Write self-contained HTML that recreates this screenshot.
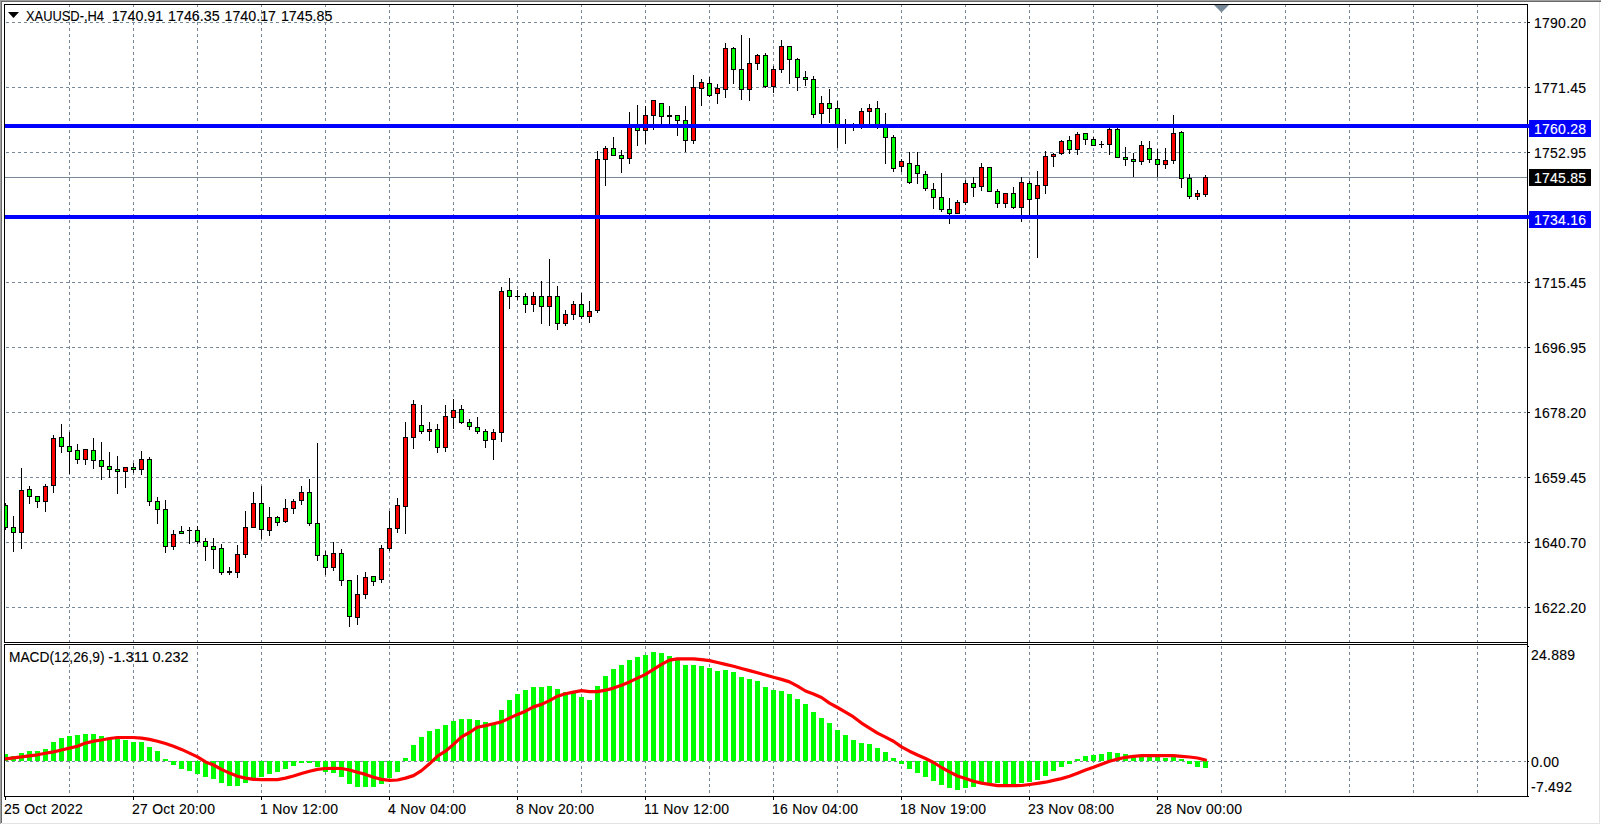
<!DOCTYPE html>
<html><head><meta charset="utf-8"><title>XAUUSD-,H4</title>
<style>html,body{margin:0;padding:0;background:#fff;overflow:hidden}svg{display:block}text{font-family:"Liberation Sans",Arial,sans-serif;font-size:14px;fill:#000;white-space:pre;stroke:#000;stroke-width:.12px}.ax{letter-spacing:.25px}.w{fill:#fff;stroke:#fff}</style>
</head><body>
<svg width="1601" height="825" viewBox="0 0 1601 825">
<rect width="1601" height="825" fill="#fff"/>
<g shape-rendering="crispEdges">
<rect x="0" y="0" width="1601" height="1" fill="#a0a0a0"/>
<rect x="1" y="1" width="1600" height="1" fill="#696969"/>
<rect x="0" y="0" width="1" height="824" fill="#a0a0a0"/>
<rect x="1" y="1" width="1" height="822" fill="#696969"/>
<rect x="1599" y="2" width="1" height="822" fill="#e3e3e3"/>
<rect x="2" y="823" width="1598" height="1" fill="#e3e3e3"/>
</g>
<g stroke="#778899" stroke-width="1" stroke-dasharray="3 3" shape-rendering="crispEdges" fill="none">
<line x1="69.5" y1="4" x2="69.5" y2="642"/>
<line x1="69.5" y1="646" x2="69.5" y2="796"/>
<line x1="133.5" y1="4" x2="133.5" y2="642"/>
<line x1="133.5" y1="646" x2="133.5" y2="796"/>
<line x1="197.5" y1="4" x2="197.5" y2="642"/>
<line x1="197.5" y1="646" x2="197.5" y2="796"/>
<line x1="261.5" y1="4" x2="261.5" y2="642"/>
<line x1="261.5" y1="646" x2="261.5" y2="796"/>
<line x1="325.5" y1="4" x2="325.5" y2="642"/>
<line x1="325.5" y1="646" x2="325.5" y2="796"/>
<line x1="389.5" y1="4" x2="389.5" y2="642"/>
<line x1="389.5" y1="646" x2="389.5" y2="796"/>
<line x1="453.5" y1="4" x2="453.5" y2="642"/>
<line x1="453.5" y1="646" x2="453.5" y2="796"/>
<line x1="517.5" y1="4" x2="517.5" y2="642"/>
<line x1="517.5" y1="646" x2="517.5" y2="796"/>
<line x1="581.5" y1="4" x2="581.5" y2="642"/>
<line x1="581.5" y1="646" x2="581.5" y2="796"/>
<line x1="645.5" y1="4" x2="645.5" y2="642"/>
<line x1="645.5" y1="646" x2="645.5" y2="796"/>
<line x1="709.5" y1="4" x2="709.5" y2="642"/>
<line x1="709.5" y1="646" x2="709.5" y2="796"/>
<line x1="773.5" y1="4" x2="773.5" y2="642"/>
<line x1="773.5" y1="646" x2="773.5" y2="796"/>
<line x1="837.5" y1="4" x2="837.5" y2="642"/>
<line x1="837.5" y1="646" x2="837.5" y2="796"/>
<line x1="901.5" y1="4" x2="901.5" y2="642"/>
<line x1="901.5" y1="646" x2="901.5" y2="796"/>
<line x1="965.5" y1="4" x2="965.5" y2="642"/>
<line x1="965.5" y1="646" x2="965.5" y2="796"/>
<line x1="1029.5" y1="4" x2="1029.5" y2="642"/>
<line x1="1029.5" y1="646" x2="1029.5" y2="796"/>
<line x1="1093.5" y1="4" x2="1093.5" y2="642"/>
<line x1="1093.5" y1="646" x2="1093.5" y2="796"/>
<line x1="1157.5" y1="4" x2="1157.5" y2="642"/>
<line x1="1157.5" y1="646" x2="1157.5" y2="796"/>
<line x1="1221.5" y1="4" x2="1221.5" y2="642"/>
<line x1="1221.5" y1="646" x2="1221.5" y2="796"/>
<line x1="1285.5" y1="4" x2="1285.5" y2="642"/>
<line x1="1285.5" y1="646" x2="1285.5" y2="796"/>
<line x1="1349.5" y1="4" x2="1349.5" y2="642"/>
<line x1="1349.5" y1="646" x2="1349.5" y2="796"/>
<line x1="1413.5" y1="4" x2="1413.5" y2="642"/>
<line x1="1413.5" y1="646" x2="1413.5" y2="796"/>
<line x1="1477.5" y1="4" x2="1477.5" y2="642"/>
<line x1="1477.5" y1="646" x2="1477.5" y2="796"/>
<line x1="6" y1="22.5" x2="1526" y2="22.5"/>
<line x1="6" y1="87.5" x2="1526" y2="87.5"/>
<line x1="6" y1="152.5" x2="1526" y2="152.5"/>
<line x1="6" y1="217.5" x2="1526" y2="217.5"/>
<line x1="6" y1="282.5" x2="1526" y2="282.5"/>
<line x1="6" y1="347.5" x2="1526" y2="347.5"/>
<line x1="6" y1="412.5" x2="1526" y2="412.5"/>
<line x1="6" y1="477.5" x2="1526" y2="477.5"/>
<line x1="6" y1="542.5" x2="1526" y2="542.5"/>
<line x1="6" y1="607.5" x2="1526" y2="607.5"/>
<line x1="6" y1="761.5" x2="1526" y2="761.5"/>
</g>
<rect x="5" y="177" width="1522" height="1" fill="#778899" shape-rendering="crispEdges"/>
<g shape-rendering="crispEdges" clip-path="url(#cm)">
<defs><clipPath id="cm"><rect x="5" y="5" width="1522" height="637"/></clipPath><clipPath id="cd"><rect x="5" y="645" width="1522" height="151"/></clipPath></defs>
<rect x="5" y="503" width="1" height="27" fill="#000"/>
<rect x="3" y="505" width="5" height="23" fill="#000"/>
<rect x="4" y="506" width="3" height="21" fill="#00ff00"/>
<rect x="13" y="516" width="1" height="36" fill="#000"/>
<rect x="11" y="527" width="5" height="6" fill="#000"/>
<rect x="12" y="528" width="3" height="4" fill="#00ff00"/>
<rect x="21" y="468" width="1" height="81" fill="#000"/>
<rect x="19" y="490" width="5" height="43" fill="#000"/>
<rect x="20" y="491" width="3" height="41" fill="#ff0000"/>
<rect x="29" y="486" width="1" height="18" fill="#000"/>
<rect x="27" y="489" width="5" height="8" fill="#000"/>
<rect x="28" y="490" width="3" height="6" fill="#00ff00"/>
<rect x="37" y="496" width="1" height="12" fill="#000"/>
<rect x="35" y="496" width="5" height="6" fill="#000"/>
<rect x="36" y="497" width="3" height="4" fill="#00ff00"/>
<rect x="45" y="484" width="1" height="28" fill="#000"/>
<rect x="43" y="486" width="5" height="16" fill="#000"/>
<rect x="44" y="487" width="3" height="14" fill="#ff0000"/>
<rect x="53" y="435" width="1" height="58" fill="#000"/>
<rect x="51" y="438" width="5" height="48" fill="#000"/>
<rect x="52" y="439" width="3" height="46" fill="#ff0000"/>
<rect x="61" y="424" width="1" height="29" fill="#000"/>
<rect x="59" y="437" width="5" height="10" fill="#000"/>
<rect x="60" y="438" width="3" height="8" fill="#00ff00"/>
<rect x="69" y="432" width="1" height="42" fill="#000"/>
<rect x="67" y="446" width="5" height="6" fill="#000"/>
<rect x="68" y="447" width="3" height="4" fill="#00ff00"/>
<rect x="77" y="444" width="1" height="20" fill="#000"/>
<rect x="75" y="450" width="5" height="10" fill="#000"/>
<rect x="76" y="451" width="3" height="8" fill="#00ff00"/>
<rect x="85" y="449" width="1" height="16" fill="#000"/>
<rect x="83" y="449" width="5" height="11" fill="#000"/>
<rect x="84" y="450" width="3" height="9" fill="#ff0000"/>
<rect x="93" y="438" width="1" height="31" fill="#000"/>
<rect x="91" y="450" width="5" height="11" fill="#000"/>
<rect x="92" y="451" width="3" height="9" fill="#00ff00"/>
<rect x="101" y="442" width="1" height="38" fill="#000"/>
<rect x="99" y="460" width="5" height="7" fill="#000"/>
<rect x="100" y="461" width="3" height="5" fill="#00ff00"/>
<rect x="109" y="452" width="1" height="26" fill="#000"/>
<rect x="107" y="466" width="5" height="4" fill="#000"/>
<rect x="108" y="467" width="3" height="2" fill="#00ff00"/>
<rect x="117" y="456" width="1" height="38" fill="#000"/>
<rect x="115" y="469" width="5" height="3" fill="#000"/>
<rect x="116" y="470" width="3" height="1" fill="#00ff00"/>
<rect x="125" y="467" width="1" height="21" fill="#000"/>
<rect x="123" y="467" width="5" height="5" fill="#000"/>
<rect x="124" y="468" width="3" height="3" fill="#ff0000"/>
<rect x="133" y="463" width="1" height="10" fill="#000"/>
<rect x="131" y="467" width="5" height="3" fill="#000"/>
<rect x="132" y="468" width="3" height="1" fill="#00ff00"/>
<rect x="141" y="451" width="1" height="24" fill="#000"/>
<rect x="139" y="459" width="5" height="11" fill="#000"/>
<rect x="140" y="460" width="3" height="9" fill="#ff0000"/>
<rect x="149" y="457" width="1" height="49" fill="#000"/>
<rect x="147" y="459" width="5" height="43" fill="#000"/>
<rect x="148" y="460" width="3" height="41" fill="#00ff00"/>
<rect x="157" y="497" width="1" height="27" fill="#000"/>
<rect x="155" y="501" width="5" height="9" fill="#000"/>
<rect x="156" y="502" width="3" height="7" fill="#00ff00"/>
<rect x="165" y="500" width="1" height="53" fill="#000"/>
<rect x="163" y="509" width="5" height="38" fill="#000"/>
<rect x="164" y="510" width="3" height="36" fill="#00ff00"/>
<rect x="173" y="530" width="1" height="20" fill="#000"/>
<rect x="171" y="534" width="5" height="13" fill="#000"/>
<rect x="172" y="535" width="3" height="11" fill="#ff0000"/>
<rect x="181" y="526" width="1" height="8" fill="#000"/>
<rect x="179" y="531" width="5" height="3" fill="#000"/>
<rect x="180" y="532" width="3" height="1" fill="#00ff00"/>
<rect x="189" y="527" width="1" height="17" fill="#000"/>
<rect x="187" y="530" width="5" height="1" fill="#000"/>
<rect x="197" y="526" width="1" height="18" fill="#000"/>
<rect x="195" y="530" width="5" height="12" fill="#000"/>
<rect x="196" y="531" width="3" height="10" fill="#00ff00"/>
<rect x="205" y="538" width="1" height="23" fill="#000"/>
<rect x="203" y="541" width="5" height="6" fill="#000"/>
<rect x="204" y="542" width="3" height="4" fill="#00ff00"/>
<rect x="213" y="538" width="1" height="31" fill="#000"/>
<rect x="211" y="546" width="5" height="4" fill="#000"/>
<rect x="212" y="547" width="3" height="2" fill="#00ff00"/>
<rect x="221" y="544" width="1" height="31" fill="#000"/>
<rect x="219" y="548" width="5" height="25" fill="#000"/>
<rect x="220" y="549" width="3" height="23" fill="#00ff00"/>
<rect x="229" y="567" width="1" height="8" fill="#000"/>
<rect x="227" y="571" width="5" height="2" fill="#000"/>
<rect x="237" y="545" width="1" height="33" fill="#000"/>
<rect x="235" y="554" width="5" height="19" fill="#000"/>
<rect x="236" y="555" width="3" height="17" fill="#ff0000"/>
<rect x="245" y="511" width="1" height="47" fill="#000"/>
<rect x="243" y="527" width="5" height="28" fill="#000"/>
<rect x="244" y="528" width="3" height="26" fill="#ff0000"/>
<rect x="253" y="492" width="1" height="36" fill="#000"/>
<rect x="251" y="503" width="5" height="25" fill="#000"/>
<rect x="252" y="504" width="3" height="23" fill="#ff0000"/>
<rect x="261" y="486" width="1" height="53" fill="#000"/>
<rect x="259" y="503" width="5" height="27" fill="#000"/>
<rect x="260" y="504" width="3" height="25" fill="#00ff00"/>
<rect x="269" y="507" width="1" height="29" fill="#000"/>
<rect x="267" y="517" width="5" height="14" fill="#000"/>
<rect x="268" y="518" width="3" height="12" fill="#ff0000"/>
<rect x="277" y="516" width="1" height="10" fill="#000"/>
<rect x="275" y="517" width="5" height="6" fill="#000"/>
<rect x="276" y="518" width="3" height="4" fill="#00ff00"/>
<rect x="285" y="499" width="1" height="24" fill="#000"/>
<rect x="283" y="508" width="5" height="14" fill="#000"/>
<rect x="284" y="509" width="3" height="12" fill="#ff0000"/>
<rect x="293" y="499" width="1" height="15" fill="#000"/>
<rect x="291" y="501" width="5" height="8" fill="#000"/>
<rect x="292" y="502" width="3" height="6" fill="#ff0000"/>
<rect x="301" y="486" width="1" height="19" fill="#000"/>
<rect x="299" y="492" width="5" height="9" fill="#000"/>
<rect x="300" y="493" width="3" height="7" fill="#ff0000"/>
<rect x="309" y="479" width="1" height="47" fill="#000"/>
<rect x="307" y="492" width="5" height="32" fill="#000"/>
<rect x="308" y="493" width="3" height="30" fill="#00ff00"/>
<rect x="317" y="443" width="1" height="118" fill="#000"/>
<rect x="315" y="523" width="5" height="33" fill="#000"/>
<rect x="316" y="524" width="3" height="31" fill="#00ff00"/>
<rect x="325" y="551" width="1" height="24" fill="#000"/>
<rect x="323" y="555" width="5" height="13" fill="#000"/>
<rect x="324" y="556" width="3" height="11" fill="#00ff00"/>
<rect x="333" y="542" width="1" height="29" fill="#000"/>
<rect x="331" y="553" width="5" height="15" fill="#000"/>
<rect x="332" y="554" width="3" height="13" fill="#ff0000"/>
<rect x="341" y="549" width="1" height="37" fill="#000"/>
<rect x="339" y="553" width="5" height="28" fill="#000"/>
<rect x="340" y="554" width="3" height="26" fill="#00ff00"/>
<rect x="349" y="580" width="1" height="47" fill="#000"/>
<rect x="347" y="580" width="5" height="37" fill="#000"/>
<rect x="348" y="581" width="3" height="35" fill="#00ff00"/>
<rect x="357" y="575" width="1" height="50" fill="#000"/>
<rect x="355" y="594" width="5" height="24" fill="#000"/>
<rect x="356" y="595" width="3" height="22" fill="#ff0000"/>
<rect x="365" y="572" width="1" height="27" fill="#000"/>
<rect x="363" y="577" width="5" height="18" fill="#000"/>
<rect x="364" y="578" width="3" height="16" fill="#ff0000"/>
<rect x="373" y="576" width="1" height="10" fill="#000"/>
<rect x="371" y="576" width="5" height="6" fill="#000"/>
<rect x="372" y="577" width="3" height="4" fill="#00ff00"/>
<rect x="381" y="545" width="1" height="38" fill="#000"/>
<rect x="379" y="548" width="5" height="32" fill="#000"/>
<rect x="380" y="549" width="3" height="30" fill="#ff0000"/>
<rect x="389" y="511" width="1" height="40" fill="#000"/>
<rect x="387" y="528" width="5" height="21" fill="#000"/>
<rect x="388" y="529" width="3" height="19" fill="#ff0000"/>
<rect x="397" y="498" width="1" height="35" fill="#000"/>
<rect x="395" y="505" width="5" height="24" fill="#000"/>
<rect x="396" y="506" width="3" height="22" fill="#ff0000"/>
<rect x="405" y="422" width="1" height="112" fill="#000"/>
<rect x="403" y="437" width="5" height="70" fill="#000"/>
<rect x="404" y="438" width="3" height="68" fill="#ff0000"/>
<rect x="413" y="400" width="1" height="49" fill="#000"/>
<rect x="411" y="404" width="5" height="34" fill="#000"/>
<rect x="412" y="405" width="3" height="32" fill="#ff0000"/>
<rect x="421" y="405" width="1" height="29" fill="#000"/>
<rect x="419" y="425" width="5" height="7" fill="#000"/>
<rect x="420" y="426" width="3" height="5" fill="#00ff00"/>
<rect x="429" y="422" width="1" height="19" fill="#000"/>
<rect x="427" y="429" width="5" height="3" fill="#000"/>
<rect x="428" y="430" width="3" height="1" fill="#ff0000"/>
<rect x="437" y="424" width="1" height="29" fill="#000"/>
<rect x="435" y="429" width="5" height="19" fill="#000"/>
<rect x="436" y="430" width="3" height="17" fill="#00ff00"/>
<rect x="445" y="405" width="1" height="47" fill="#000"/>
<rect x="443" y="416" width="5" height="32" fill="#000"/>
<rect x="444" y="417" width="3" height="30" fill="#ff0000"/>
<rect x="453" y="399" width="1" height="30" fill="#000"/>
<rect x="451" y="410" width="5" height="8" fill="#000"/>
<rect x="452" y="411" width="3" height="6" fill="#ff0000"/>
<rect x="461" y="405" width="1" height="19" fill="#000"/>
<rect x="459" y="409" width="5" height="14" fill="#000"/>
<rect x="460" y="410" width="3" height="12" fill="#00ff00"/>
<rect x="469" y="419" width="1" height="11" fill="#000"/>
<rect x="467" y="422" width="5" height="5" fill="#000"/>
<rect x="468" y="423" width="3" height="3" fill="#00ff00"/>
<rect x="477" y="417" width="1" height="17" fill="#000"/>
<rect x="475" y="427" width="5" height="5" fill="#000"/>
<rect x="476" y="428" width="3" height="3" fill="#00ff00"/>
<rect x="485" y="429" width="1" height="19" fill="#000"/>
<rect x="483" y="431" width="5" height="10" fill="#000"/>
<rect x="484" y="432" width="3" height="8" fill="#00ff00"/>
<rect x="493" y="429" width="1" height="31" fill="#000"/>
<rect x="491" y="432" width="5" height="8" fill="#000"/>
<rect x="492" y="433" width="3" height="6" fill="#ff0000"/>
<rect x="501" y="287" width="1" height="155" fill="#000"/>
<rect x="499" y="291" width="5" height="142" fill="#000"/>
<rect x="500" y="292" width="3" height="140" fill="#ff0000"/>
<rect x="509" y="278" width="1" height="31" fill="#000"/>
<rect x="507" y="290" width="5" height="7" fill="#000"/>
<rect x="508" y="291" width="3" height="5" fill="#00ff00"/>
<rect x="517" y="290" width="1" height="10" fill="#000"/>
<rect x="515" y="296" width="5" height="1" fill="#000"/>
<rect x="525" y="293" width="1" height="20" fill="#000"/>
<rect x="523" y="296" width="5" height="9" fill="#000"/>
<rect x="524" y="297" width="3" height="7" fill="#00ff00"/>
<rect x="533" y="292" width="1" height="20" fill="#000"/>
<rect x="531" y="296" width="5" height="9" fill="#000"/>
<rect x="532" y="297" width="3" height="7" fill="#ff0000"/>
<rect x="541" y="281" width="1" height="43" fill="#000"/>
<rect x="539" y="296" width="5" height="11" fill="#000"/>
<rect x="540" y="297" width="3" height="9" fill="#00ff00"/>
<rect x="549" y="259" width="1" height="67" fill="#000"/>
<rect x="547" y="296" width="5" height="11" fill="#000"/>
<rect x="548" y="297" width="3" height="9" fill="#ff0000"/>
<rect x="557" y="286" width="1" height="44" fill="#000"/>
<rect x="555" y="296" width="5" height="28" fill="#000"/>
<rect x="556" y="297" width="3" height="26" fill="#00ff00"/>
<rect x="565" y="310" width="1" height="16" fill="#000"/>
<rect x="563" y="314" width="5" height="10" fill="#000"/>
<rect x="564" y="315" width="3" height="8" fill="#ff0000"/>
<rect x="573" y="301" width="1" height="19" fill="#000"/>
<rect x="571" y="304" width="5" height="11" fill="#000"/>
<rect x="572" y="305" width="3" height="9" fill="#ff0000"/>
<rect x="581" y="293" width="1" height="26" fill="#000"/>
<rect x="579" y="304" width="5" height="13" fill="#000"/>
<rect x="580" y="305" width="3" height="11" fill="#00ff00"/>
<rect x="589" y="301" width="1" height="22" fill="#000"/>
<rect x="587" y="311" width="5" height="6" fill="#000"/>
<rect x="588" y="312" width="3" height="4" fill="#ff0000"/>
<rect x="597" y="151" width="1" height="162" fill="#000"/>
<rect x="595" y="159" width="5" height="152" fill="#000"/>
<rect x="596" y="160" width="3" height="150" fill="#ff0000"/>
<rect x="605" y="146" width="1" height="40" fill="#000"/>
<rect x="603" y="148" width="5" height="12" fill="#000"/>
<rect x="604" y="149" width="3" height="10" fill="#ff0000"/>
<rect x="613" y="137" width="1" height="19" fill="#000"/>
<rect x="611" y="148" width="5" height="8" fill="#000"/>
<rect x="612" y="149" width="3" height="6" fill="#00ff00"/>
<rect x="621" y="150" width="1" height="23" fill="#000"/>
<rect x="619" y="155" width="5" height="4" fill="#000"/>
<rect x="620" y="156" width="3" height="2" fill="#00ff00"/>
<rect x="629" y="112" width="1" height="52" fill="#000"/>
<rect x="627" y="125" width="5" height="34" fill="#000"/>
<rect x="628" y="126" width="3" height="32" fill="#ff0000"/>
<rect x="637" y="105" width="1" height="41" fill="#000"/>
<rect x="635" y="125" width="5" height="6" fill="#000"/>
<rect x="636" y="126" width="3" height="4" fill="#00ff00"/>
<rect x="645" y="106" width="1" height="38" fill="#000"/>
<rect x="643" y="115" width="5" height="16" fill="#000"/>
<rect x="644" y="116" width="3" height="14" fill="#ff0000"/>
<rect x="653" y="100" width="1" height="30" fill="#000"/>
<rect x="651" y="100" width="5" height="16" fill="#000"/>
<rect x="652" y="101" width="3" height="14" fill="#ff0000"/>
<rect x="661" y="103" width="1" height="23" fill="#000"/>
<rect x="659" y="103" width="5" height="14" fill="#000"/>
<rect x="660" y="104" width="3" height="12" fill="#00ff00"/>
<rect x="669" y="106" width="1" height="20" fill="#000"/>
<rect x="667" y="115" width="5" height="2" fill="#000"/>
<rect x="677" y="115" width="1" height="21" fill="#000"/>
<rect x="675" y="115" width="5" height="6" fill="#000"/>
<rect x="676" y="116" width="3" height="4" fill="#00ff00"/>
<rect x="685" y="106" width="1" height="46" fill="#000"/>
<rect x="683" y="120" width="5" height="21" fill="#000"/>
<rect x="684" y="121" width="3" height="19" fill="#00ff00"/>
<rect x="693" y="75" width="1" height="69" fill="#000"/>
<rect x="691" y="87" width="5" height="54" fill="#000"/>
<rect x="692" y="88" width="3" height="52" fill="#ff0000"/>
<rect x="701" y="79" width="1" height="27" fill="#000"/>
<rect x="699" y="82" width="5" height="7" fill="#000"/>
<rect x="700" y="83" width="3" height="5" fill="#ff0000"/>
<rect x="709" y="77" width="1" height="20" fill="#000"/>
<rect x="707" y="83" width="5" height="13" fill="#000"/>
<rect x="708" y="84" width="3" height="11" fill="#00ff00"/>
<rect x="717" y="84" width="1" height="20" fill="#000"/>
<rect x="715" y="88" width="5" height="6" fill="#000"/>
<rect x="716" y="89" width="3" height="4" fill="#ff0000"/>
<rect x="725" y="43" width="1" height="55" fill="#000"/>
<rect x="723" y="48" width="5" height="42" fill="#000"/>
<rect x="724" y="49" width="3" height="40" fill="#ff0000"/>
<rect x="733" y="47" width="1" height="37" fill="#000"/>
<rect x="731" y="48" width="5" height="22" fill="#000"/>
<rect x="732" y="49" width="3" height="20" fill="#00ff00"/>
<rect x="741" y="35" width="1" height="65" fill="#000"/>
<rect x="739" y="69" width="5" height="21" fill="#000"/>
<rect x="740" y="70" width="3" height="19" fill="#00ff00"/>
<rect x="749" y="38" width="1" height="63" fill="#000"/>
<rect x="747" y="63" width="5" height="27" fill="#000"/>
<rect x="748" y="64" width="3" height="25" fill="#ff0000"/>
<rect x="757" y="54" width="1" height="16" fill="#000"/>
<rect x="755" y="55" width="5" height="9" fill="#000"/>
<rect x="756" y="56" width="3" height="7" fill="#ff0000"/>
<rect x="765" y="53" width="1" height="35" fill="#000"/>
<rect x="763" y="55" width="5" height="32" fill="#000"/>
<rect x="764" y="56" width="3" height="30" fill="#00ff00"/>
<rect x="773" y="66" width="1" height="27" fill="#000"/>
<rect x="771" y="69" width="5" height="18" fill="#000"/>
<rect x="772" y="70" width="3" height="16" fill="#ff0000"/>
<rect x="781" y="40" width="1" height="33" fill="#000"/>
<rect x="779" y="46" width="5" height="24" fill="#000"/>
<rect x="780" y="47" width="3" height="22" fill="#ff0000"/>
<rect x="789" y="46" width="1" height="38" fill="#000"/>
<rect x="787" y="46" width="5" height="14" fill="#000"/>
<rect x="788" y="47" width="3" height="12" fill="#00ff00"/>
<rect x="797" y="58" width="1" height="33" fill="#000"/>
<rect x="795" y="59" width="5" height="19" fill="#000"/>
<rect x="796" y="60" width="3" height="17" fill="#00ff00"/>
<rect x="805" y="71" width="1" height="15" fill="#000"/>
<rect x="803" y="77" width="5" height="3" fill="#000"/>
<rect x="804" y="78" width="3" height="1" fill="#00ff00"/>
<rect x="813" y="76" width="1" height="42" fill="#000"/>
<rect x="811" y="79" width="5" height="36" fill="#000"/>
<rect x="812" y="80" width="3" height="34" fill="#00ff00"/>
<rect x="821" y="96" width="1" height="30" fill="#000"/>
<rect x="819" y="103" width="5" height="11" fill="#000"/>
<rect x="820" y="104" width="3" height="9" fill="#ff0000"/>
<rect x="829" y="89" width="1" height="34" fill="#000"/>
<rect x="827" y="103" width="5" height="6" fill="#000"/>
<rect x="828" y="104" width="3" height="4" fill="#00ff00"/>
<rect x="837" y="101" width="1" height="47" fill="#000"/>
<rect x="835" y="108" width="5" height="19" fill="#000"/>
<rect x="836" y="109" width="3" height="17" fill="#00ff00"/>
<rect x="845" y="119" width="1" height="25" fill="#000"/>
<rect x="843" y="125" width="5" height="2" fill="#000"/>
<rect x="853" y="123" width="1" height="8" fill="#000"/>
<rect x="851" y="125" width="5" height="2" fill="#000"/>
<rect x="861" y="108" width="1" height="21" fill="#000"/>
<rect x="859" y="111" width="5" height="16" fill="#000"/>
<rect x="860" y="112" width="3" height="14" fill="#ff0000"/>
<rect x="869" y="104" width="1" height="22" fill="#000"/>
<rect x="867" y="108" width="5" height="4" fill="#000"/>
<rect x="868" y="109" width="3" height="2" fill="#ff0000"/>
<rect x="877" y="101" width="1" height="28" fill="#000"/>
<rect x="875" y="108" width="5" height="19" fill="#000"/>
<rect x="876" y="109" width="3" height="17" fill="#00ff00"/>
<rect x="885" y="113" width="1" height="51" fill="#000"/>
<rect x="883" y="125" width="5" height="13" fill="#000"/>
<rect x="884" y="126" width="3" height="11" fill="#00ff00"/>
<rect x="893" y="135" width="1" height="37" fill="#000"/>
<rect x="891" y="137" width="5" height="32" fill="#000"/>
<rect x="892" y="138" width="3" height="30" fill="#00ff00"/>
<rect x="901" y="159" width="1" height="13" fill="#000"/>
<rect x="899" y="161" width="5" height="6" fill="#000"/>
<rect x="900" y="162" width="3" height="4" fill="#ff0000"/>
<rect x="909" y="152" width="1" height="32" fill="#000"/>
<rect x="907" y="163" width="5" height="20" fill="#000"/>
<rect x="908" y="164" width="3" height="18" fill="#00ff00"/>
<rect x="917" y="152" width="1" height="32" fill="#000"/>
<rect x="915" y="165" width="5" height="9" fill="#000"/>
<rect x="916" y="166" width="3" height="7" fill="#00ff00"/>
<rect x="925" y="171" width="1" height="20" fill="#000"/>
<rect x="923" y="174" width="5" height="15" fill="#000"/>
<rect x="924" y="175" width="3" height="13" fill="#00ff00"/>
<rect x="933" y="183" width="1" height="26" fill="#000"/>
<rect x="931" y="189" width="5" height="9" fill="#000"/>
<rect x="932" y="190" width="3" height="7" fill="#00ff00"/>
<rect x="941" y="173" width="1" height="39" fill="#000"/>
<rect x="939" y="197" width="5" height="13" fill="#000"/>
<rect x="940" y="198" width="3" height="11" fill="#00ff00"/>
<rect x="949" y="198" width="1" height="26" fill="#000"/>
<rect x="947" y="209" width="5" height="5" fill="#000"/>
<rect x="948" y="210" width="3" height="3" fill="#00ff00"/>
<rect x="957" y="200" width="1" height="14" fill="#000"/>
<rect x="955" y="202" width="5" height="12" fill="#000"/>
<rect x="956" y="203" width="3" height="10" fill="#ff0000"/>
<rect x="965" y="180" width="1" height="25" fill="#000"/>
<rect x="963" y="183" width="5" height="20" fill="#000"/>
<rect x="964" y="184" width="3" height="18" fill="#ff0000"/>
<rect x="973" y="177" width="1" height="20" fill="#000"/>
<rect x="971" y="183" width="5" height="5" fill="#000"/>
<rect x="972" y="184" width="3" height="3" fill="#00ff00"/>
<rect x="981" y="163" width="1" height="28" fill="#000"/>
<rect x="979" y="167" width="5" height="20" fill="#000"/>
<rect x="980" y="168" width="3" height="18" fill="#ff0000"/>
<rect x="989" y="167" width="1" height="25" fill="#000"/>
<rect x="987" y="167" width="5" height="25" fill="#000"/>
<rect x="988" y="168" width="3" height="23" fill="#00ff00"/>
<rect x="997" y="189" width="1" height="19" fill="#000"/>
<rect x="995" y="191" width="5" height="13" fill="#000"/>
<rect x="996" y="192" width="3" height="11" fill="#00ff00"/>
<rect x="1005" y="193" width="1" height="15" fill="#000"/>
<rect x="1003" y="193" width="5" height="11" fill="#000"/>
<rect x="1004" y="194" width="3" height="9" fill="#ff0000"/>
<rect x="1013" y="187" width="1" height="22" fill="#000"/>
<rect x="1011" y="193" width="5" height="15" fill="#000"/>
<rect x="1012" y="194" width="3" height="13" fill="#00ff00"/>
<rect x="1021" y="177" width="1" height="45" fill="#000"/>
<rect x="1019" y="182" width="5" height="26" fill="#000"/>
<rect x="1020" y="183" width="3" height="24" fill="#ff0000"/>
<rect x="1029" y="181" width="1" height="37" fill="#000"/>
<rect x="1027" y="183" width="5" height="17" fill="#000"/>
<rect x="1028" y="184" width="3" height="15" fill="#00ff00"/>
<rect x="1037" y="171" width="1" height="87" fill="#000"/>
<rect x="1035" y="185" width="5" height="14" fill="#000"/>
<rect x="1036" y="186" width="3" height="12" fill="#ff0000"/>
<rect x="1045" y="151" width="1" height="43" fill="#000"/>
<rect x="1043" y="156" width="5" height="30" fill="#000"/>
<rect x="1044" y="157" width="3" height="28" fill="#ff0000"/>
<rect x="1053" y="153" width="1" height="14" fill="#000"/>
<rect x="1051" y="154" width="5" height="3" fill="#000"/>
<rect x="1052" y="155" width="3" height="1" fill="#ff0000"/>
<rect x="1061" y="140" width="1" height="15" fill="#000"/>
<rect x="1059" y="141" width="5" height="13" fill="#000"/>
<rect x="1060" y="142" width="3" height="11" fill="#ff0000"/>
<rect x="1069" y="136" width="1" height="18" fill="#000"/>
<rect x="1067" y="140" width="5" height="10" fill="#000"/>
<rect x="1068" y="141" width="3" height="8" fill="#00ff00"/>
<rect x="1077" y="132" width="1" height="23" fill="#000"/>
<rect x="1075" y="134" width="5" height="16" fill="#000"/>
<rect x="1076" y="135" width="3" height="14" fill="#ff0000"/>
<rect x="1085" y="133" width="1" height="12" fill="#000"/>
<rect x="1083" y="133" width="5" height="7" fill="#000"/>
<rect x="1084" y="134" width="3" height="5" fill="#00ff00"/>
<rect x="1093" y="137" width="1" height="9" fill="#000"/>
<rect x="1091" y="139" width="5" height="7" fill="#000"/>
<rect x="1092" y="140" width="3" height="5" fill="#00ff00"/>
<rect x="1101" y="141" width="1" height="7" fill="#000"/>
<rect x="1099" y="144" width="5" height="1" fill="#000"/>
<rect x="1109" y="128" width="1" height="27" fill="#000"/>
<rect x="1107" y="129" width="5" height="16" fill="#000"/>
<rect x="1108" y="130" width="3" height="14" fill="#ff0000"/>
<rect x="1117" y="128" width="1" height="30" fill="#000"/>
<rect x="1115" y="129" width="5" height="29" fill="#000"/>
<rect x="1116" y="130" width="3" height="27" fill="#00ff00"/>
<rect x="1125" y="147" width="1" height="19" fill="#000"/>
<rect x="1123" y="157" width="5" height="3" fill="#000"/>
<rect x="1124" y="158" width="3" height="1" fill="#00ff00"/>
<rect x="1133" y="153" width="1" height="24" fill="#000"/>
<rect x="1131" y="159" width="5" height="3" fill="#000"/>
<rect x="1132" y="160" width="3" height="1" fill="#00ff00"/>
<rect x="1141" y="141" width="1" height="24" fill="#000"/>
<rect x="1139" y="145" width="5" height="17" fill="#000"/>
<rect x="1140" y="146" width="3" height="15" fill="#ff0000"/>
<rect x="1149" y="141" width="1" height="22" fill="#000"/>
<rect x="1147" y="148" width="5" height="12" fill="#000"/>
<rect x="1148" y="149" width="3" height="10" fill="#00ff00"/>
<rect x="1157" y="149" width="1" height="28" fill="#000"/>
<rect x="1155" y="159" width="5" height="6" fill="#000"/>
<rect x="1156" y="160" width="3" height="4" fill="#00ff00"/>
<rect x="1165" y="148" width="1" height="21" fill="#000"/>
<rect x="1163" y="160" width="5" height="5" fill="#000"/>
<rect x="1164" y="161" width="3" height="3" fill="#ff0000"/>
<rect x="1173" y="115" width="1" height="49" fill="#000"/>
<rect x="1171" y="133" width="5" height="28" fill="#000"/>
<rect x="1172" y="134" width="3" height="26" fill="#ff0000"/>
<rect x="1181" y="131" width="1" height="57" fill="#000"/>
<rect x="1179" y="132" width="5" height="47" fill="#000"/>
<rect x="1180" y="133" width="3" height="45" fill="#00ff00"/>
<rect x="1189" y="174" width="1" height="25" fill="#000"/>
<rect x="1187" y="178" width="5" height="19" fill="#000"/>
<rect x="1188" y="179" width="3" height="17" fill="#00ff00"/>
<rect x="1197" y="190" width="1" height="10" fill="#000"/>
<rect x="1195" y="193" width="5" height="4" fill="#000"/>
<rect x="1196" y="194" width="3" height="2" fill="#ff0000"/>
<rect x="1205" y="175" width="1" height="22" fill="#000"/>
<rect x="1203" y="177" width="5" height="18" fill="#000"/>
<rect x="1204" y="178" width="3" height="16" fill="#ff0000"/>
</g>
<g shape-rendering="crispEdges" clip-path="url(#cd)" fill="#00ff00">
<rect x="3" y="754" width="5" height="7"/>
<rect x="11" y="756" width="5" height="5"/>
<rect x="19" y="753" width="5" height="8"/>
<rect x="27" y="751" width="5" height="10"/>
<rect x="35" y="751" width="5" height="10"/>
<rect x="43" y="749" width="5" height="12"/>
<rect x="51" y="742" width="5" height="19"/>
<rect x="59" y="738" width="5" height="23"/>
<rect x="67" y="736" width="5" height="25"/>
<rect x="75" y="735" width="5" height="26"/>
<rect x="83" y="734" width="5" height="27"/>
<rect x="91" y="734" width="5" height="27"/>
<rect x="99" y="736" width="5" height="25"/>
<rect x="107" y="738" width="5" height="23"/>
<rect x="115" y="739" width="5" height="22"/>
<rect x="123" y="740" width="5" height="21"/>
<rect x="131" y="742" width="5" height="19"/>
<rect x="139" y="742" width="5" height="19"/>
<rect x="147" y="747" width="5" height="14"/>
<rect x="155" y="751" width="5" height="10"/>
<rect x="163" y="759" width="5" height="2"/>
<rect x="171" y="761" width="5" height="4"/>
<rect x="179" y="761" width="5" height="8"/>
<rect x="187" y="761" width="5" height="10"/>
<rect x="195" y="761" width="5" height="13"/>
<rect x="203" y="761" width="5" height="16"/>
<rect x="211" y="761" width="5" height="18"/>
<rect x="219" y="761" width="5" height="22"/>
<rect x="227" y="761" width="5" height="25"/>
<rect x="235" y="761" width="5" height="25"/>
<rect x="243" y="761" width="5" height="22"/>
<rect x="251" y="761" width="5" height="19"/>
<rect x="259" y="761" width="5" height="16"/>
<rect x="267" y="761" width="5" height="13"/>
<rect x="275" y="761" width="5" height="11"/>
<rect x="283" y="761" width="5" height="8"/>
<rect x="291" y="761" width="5" height="5"/>
<rect x="299" y="761" width="5" height="2"/>
<rect x="307" y="761" width="5" height="2"/>
<rect x="315" y="761" width="5" height="6"/>
<rect x="323" y="761" width="5" height="11"/>
<rect x="331" y="761" width="5" height="12"/>
<rect x="339" y="761" width="5" height="16"/>
<rect x="347" y="761" width="5" height="23"/>
<rect x="355" y="761" width="5" height="26"/>
<rect x="363" y="761" width="5" height="26"/>
<rect x="371" y="761" width="5" height="26"/>
<rect x="379" y="761" width="5" height="23"/>
<rect x="387" y="761" width="5" height="17"/>
<rect x="395" y="761" width="5" height="11"/>
<rect x="403" y="758" width="5" height="3"/>
<rect x="411" y="745" width="5" height="16"/>
<rect x="419" y="737" width="5" height="24"/>
<rect x="427" y="731" width="5" height="30"/>
<rect x="435" y="729" width="5" height="32"/>
<rect x="443" y="725" width="5" height="36"/>
<rect x="451" y="721" width="5" height="40"/>
<rect x="459" y="719" width="5" height="42"/>
<rect x="467" y="719" width="5" height="42"/>
<rect x="475" y="720" width="5" height="41"/>
<rect x="483" y="722" width="5" height="39"/>
<rect x="491" y="724" width="5" height="37"/>
<rect x="499" y="710" width="5" height="51"/>
<rect x="507" y="700" width="5" height="61"/>
<rect x="515" y="694" width="5" height="67"/>
<rect x="523" y="690" width="5" height="71"/>
<rect x="531" y="687" width="5" height="74"/>
<rect x="539" y="687" width="5" height="74"/>
<rect x="547" y="686" width="5" height="75"/>
<rect x="555" y="689" width="5" height="72"/>
<rect x="563" y="692" width="5" height="69"/>
<rect x="571" y="693" width="5" height="68"/>
<rect x="579" y="697" width="5" height="64"/>
<rect x="587" y="700" width="5" height="61"/>
<rect x="595" y="686" width="5" height="75"/>
<rect x="603" y="676" width="5" height="85"/>
<rect x="611" y="669" width="5" height="92"/>
<rect x="619" y="665" width="5" height="96"/>
<rect x="627" y="660" width="5" height="101"/>
<rect x="635" y="657" width="5" height="104"/>
<rect x="643" y="655" width="5" height="106"/>
<rect x="651" y="652" width="5" height="109"/>
<rect x="659" y="653" width="5" height="108"/>
<rect x="667" y="656" width="5" height="105"/>
<rect x="675" y="658" width="5" height="103"/>
<rect x="683" y="665" width="5" height="96"/>
<rect x="691" y="665" width="5" height="96"/>
<rect x="699" y="666" width="5" height="95"/>
<rect x="707" y="668" width="5" height="93"/>
<rect x="715" y="671" width="5" height="90"/>
<rect x="723" y="670" width="5" height="91"/>
<rect x="731" y="672" width="5" height="89"/>
<rect x="739" y="677" width="5" height="84"/>
<rect x="747" y="679" width="5" height="82"/>
<rect x="755" y="681" width="5" height="80"/>
<rect x="763" y="687" width="5" height="74"/>
<rect x="771" y="690" width="5" height="71"/>
<rect x="779" y="691" width="5" height="70"/>
<rect x="787" y="694" width="5" height="67"/>
<rect x="795" y="699" width="5" height="62"/>
<rect x="803" y="704" width="5" height="57"/>
<rect x="811" y="712" width="5" height="49"/>
<rect x="819" y="718" width="5" height="43"/>
<rect x="827" y="723" width="5" height="38"/>
<rect x="835" y="730" width="5" height="31"/>
<rect x="843" y="735" width="5" height="26"/>
<rect x="851" y="740" width="5" height="21"/>
<rect x="859" y="743" width="5" height="18"/>
<rect x="867" y="744" width="5" height="17"/>
<rect x="875" y="748" width="5" height="13"/>
<rect x="883" y="752" width="5" height="9"/>
<rect x="891" y="758" width="5" height="3"/>
<rect x="899" y="761" width="5" height="3"/>
<rect x="907" y="761" width="5" height="8"/>
<rect x="915" y="761" width="5" height="12"/>
<rect x="923" y="761" width="5" height="16"/>
<rect x="931" y="761" width="5" height="20"/>
<rect x="939" y="761" width="5" height="24"/>
<rect x="947" y="761" width="5" height="27"/>
<rect x="955" y="761" width="5" height="29"/>
<rect x="963" y="761" width="5" height="27"/>
<rect x="971" y="761" width="5" height="26"/>
<rect x="979" y="761" width="5" height="23"/>
<rect x="987" y="761" width="5" height="23"/>
<rect x="995" y="761" width="5" height="22"/>
<rect x="1003" y="761" width="5" height="23"/>
<rect x="1011" y="761" width="5" height="23"/>
<rect x="1019" y="761" width="5" height="22"/>
<rect x="1027" y="761" width="5" height="21"/>
<rect x="1035" y="761" width="5" height="19"/>
<rect x="1043" y="761" width="5" height="15"/>
<rect x="1051" y="761" width="5" height="10"/>
<rect x="1059" y="761" width="5" height="6"/>
<rect x="1067" y="761" width="5" height="3"/>
<rect x="1075" y="759" width="5" height="2"/>
<rect x="1083" y="756" width="5" height="5"/>
<rect x="1091" y="755" width="5" height="6"/>
<rect x="1099" y="754" width="5" height="7"/>
<rect x="1107" y="752" width="5" height="9"/>
<rect x="1115" y="753" width="5" height="8"/>
<rect x="1123" y="754" width="5" height="7"/>
<rect x="1131" y="755" width="5" height="6"/>
<rect x="1139" y="755" width="5" height="6"/>
<rect x="1147" y="756" width="5" height="5"/>
<rect x="1155" y="756" width="5" height="5"/>
<rect x="1163" y="758" width="5" height="3"/>
<rect x="1171" y="757" width="5" height="4"/>
<rect x="1179" y="759" width="5" height="2"/>
<rect x="1187" y="761" width="5" height="3"/>
<rect x="1195" y="761" width="5" height="6"/>
<rect x="1203" y="761" width="5" height="7"/>
</g>
<polyline points="5.5,758.8 13.5,757.8 21.5,756.9 29.5,755.8 37.5,754.8 45.5,753.3 53.5,751.9 61.5,750.0 69.5,748.1 77.5,746.2 85.5,743.1 93.5,741.2 101.5,740.0 109.5,738.5 117.5,737.5 125.5,737.5 133.5,737.5 141.5,738.1 149.5,739.4 157.5,741.2 165.5,743.5 173.5,746.2 181.5,749.4 189.5,753.1 197.5,756.9 205.5,761.9 213.5,765.0 221.5,769.4 229.5,773.1 237.5,776.2 245.5,778.1 253.5,779.4 261.5,779.6 269.5,779.6 277.5,779.6 285.5,778.1 293.5,776.0 301.5,773.5 309.5,771.2 317.5,769.4 325.5,768.5 333.5,768.4 341.5,768.5 349.5,770.0 357.5,772.2 365.5,774.4 373.5,777.2 381.5,779.4 389.5,780.4 397.5,780.0 405.5,778.1 413.5,775.6 421.5,770.6 429.5,763.8 437.5,756.2 445.5,751.2 453.5,744.4 461.5,736.9 469.5,732.5 477.5,727.2 485.5,725.6 493.5,723.8 501.5,721.9 509.5,718.1 517.5,714.4 525.5,711.2 533.5,706.9 541.5,704.4 549.5,700.6 557.5,696.2 565.5,693.8 573.5,692.1 581.5,690.6 589.5,691.6 597.5,691.6 605.5,690.2 613.5,688.1 621.5,685.2 629.5,681.9 637.5,678.1 645.5,674.4 653.5,669.4 661.5,664.4 669.5,660.2 677.5,658.8 685.5,658.8 693.5,658.8 701.5,659.6 709.5,660.6 717.5,662.5 725.5,664.4 733.5,666.2 741.5,668.5 749.5,670.6 757.5,672.8 765.5,675.0 773.5,677.2 781.5,679.4 789.5,681.9 797.5,686.2 805.5,691.0 813.5,694.0 821.5,697.5 829.5,703.1 837.5,707.5 845.5,712.2 853.5,716.9 861.5,723.1 869.5,728.1 877.5,733.1 885.5,737.2 893.5,741.2 901.5,746.9 909.5,751.2 917.5,755.0 925.5,758.5 933.5,762.5 941.5,767.5 949.5,771.9 957.5,776.0 965.5,778.5 973.5,781.2 981.5,783.1 989.5,784.4 997.5,785.6 1005.5,785.6 1013.5,785.6 1021.5,785.5 1029.5,784.5 1037.5,783.4 1045.5,782.2 1053.5,780.4 1061.5,778.6 1069.5,776.3 1077.5,773.2 1085.5,770.1 1093.5,767.3 1101.5,764.2 1109.5,761.2 1117.5,759.1 1125.5,757.3 1133.5,756.3 1141.5,755.7 1149.5,755.7 1157.5,755.7 1165.5,755.7 1173.5,755.7 1181.5,756.3 1189.5,757.0 1197.5,758.0 1205.5,760.0" fill="none" stroke="#ff0000" stroke-width="3.2" stroke-linejoin="round" stroke-linecap="round" clip-path="url(#cd)"/>
<g shape-rendering="crispEdges">
<rect x="5" y="124" width="1524" height="4" fill="#0000ff"/>
<rect x="5" y="215" width="1524" height="4" fill="#0000ff"/>
<rect x="4" y="4" width="1524" height="1" fill="#000"/>
<rect x="4" y="642" width="1524" height="1" fill="#000"/>
<rect x="4" y="644" width="1524" height="1" fill="#000"/>
<rect x="4" y="796" width="1524" height="1" fill="#000"/>
<rect x="4" y="4" width="1" height="639" fill="#000"/>
<rect x="4" y="644" width="1" height="153" fill="#000"/>
<rect x="1527" y="4" width="1" height="120" fill="#000"/>
<rect x="1527" y="128" width="1" height="87" fill="#000"/>
<rect x="1527" y="219" width="1" height="578" fill="#000"/>
<rect x="1528" y="22" width="2" height="1" fill="#000"/>
<rect x="1528" y="87" width="2" height="1" fill="#000"/>
<rect x="1528" y="152" width="2" height="1" fill="#000"/>
<rect x="1528" y="282" width="2" height="1" fill="#000"/>
<rect x="1528" y="347" width="2" height="1" fill="#000"/>
<rect x="1528" y="412" width="2" height="1" fill="#000"/>
<rect x="1528" y="477" width="2" height="1" fill="#000"/>
<rect x="1528" y="542" width="2" height="1" fill="#000"/>
<rect x="1528" y="607" width="2" height="1" fill="#000"/>
<rect x="1528" y="761" width="1" height="1" fill="#000"/>
<rect x="1528" y="796" width="1" height="1" fill="#000"/>
<rect x="1528" y="646" width="1" height="1" fill="#000"/>
<rect x="5" y="797" width="1" height="3" fill="#000"/>
<rect x="133" y="797" width="1" height="3" fill="#000"/>
<rect x="261" y="797" width="1" height="3" fill="#000"/>
<rect x="389" y="797" width="1" height="3" fill="#000"/>
<rect x="517" y="797" width="1" height="3" fill="#000"/>
<rect x="645" y="797" width="1" height="3" fill="#000"/>
<rect x="773" y="797" width="1" height="3" fill="#000"/>
<rect x="901" y="797" width="1" height="3" fill="#000"/>
<rect x="1029" y="797" width="1" height="3" fill="#000"/>
<rect x="1157" y="797" width="1" height="3" fill="#000"/>
<rect x="1529" y="120" width="62" height="17" fill="#0000ff"/>
<rect x="1529" y="211" width="62" height="17" fill="#0000ff"/>
<rect x="1529" y="169" width="62" height="17" fill="#000"/>
</g>
<polygon points="1214,5 1229,5 1221.5,12.5" fill="#778899"/>
<polygon points="8,12 19,12 13.5,18" fill="#000"/>
<text y="21"><tspan x="26" textLength="78" lengthAdjust="spacingAndGlyphs">XAUUSD-,H4</tspan><tspan x="107.6"> </tspan><tspan x="111.7" textLength="51.5" lengthAdjust="spacingAndGlyphs">1740.91</tspan> <tspan x="168.1" textLength="51.5" lengthAdjust="spacingAndGlyphs">1746.35</tspan> <tspan x="224.5" textLength="51.5" lengthAdjust="spacingAndGlyphs">1740.17</tspan> <tspan x="280.9" textLength="51.5" lengthAdjust="spacingAndGlyphs">1745.85</tspan></text>
<text y="662"><tspan x="9" textLength="95.5" lengthAdjust="spacingAndGlyphs">MACD(12,26,9)</tspan> <tspan x="108.3" textLength="40.7" lengthAdjust="spacingAndGlyphs">-1.311</tspan> <tspan x="152.6" textLength="36" lengthAdjust="spacingAndGlyphs">0.232</tspan></text>
<text class="ax" x="1534" y="28">1790.20</text>
<text class="ax" x="1534" y="93">1771.45</text>
<text class="ax" x="1534" y="158">1752.95</text>
<text class="ax" x="1534" y="288">1715.45</text>
<text class="ax" x="1534" y="353">1696.95</text>
<text class="ax" x="1534" y="418">1678.20</text>
<text class="ax" x="1534" y="483">1659.45</text>
<text class="ax" x="1534" y="548">1640.70</text>
<text class="ax" x="1534" y="613">1622.20</text>
<text class="w ax" x="1534" y="134">1760.28</text>
<text class="w ax" x="1534" y="183">1745.85</text>
<text class="w ax" x="1534" y="225">1734.16</text>
<text class="ax" x="1531" y="660">24.889</text>
<text class="ax" x="1531" y="767">0.00</text>
<text class="ax" x="1531" y="792">-7.492</text>
<text class="ax" x="4" y="814">25 Oct 2022</text>
<text class="ax" x="132" y="814">27 Oct 20:00</text>
<text class="ax" x="260" y="814">1 Nov 12:00</text>
<text class="ax" x="388" y="814">4 Nov 04:00</text>
<text class="ax" x="516" y="814">8 Nov 20:00</text>
<text class="ax" x="644" y="814">11 Nov 12:00</text>
<text class="ax" x="772" y="814">16 Nov 04:00</text>
<text class="ax" x="900" y="814">18 Nov 19:00</text>
<text class="ax" x="1028" y="814">23 Nov 08:00</text>
<text class="ax" x="1156" y="814">28 Nov 00:00</text>
</svg></body></html>
